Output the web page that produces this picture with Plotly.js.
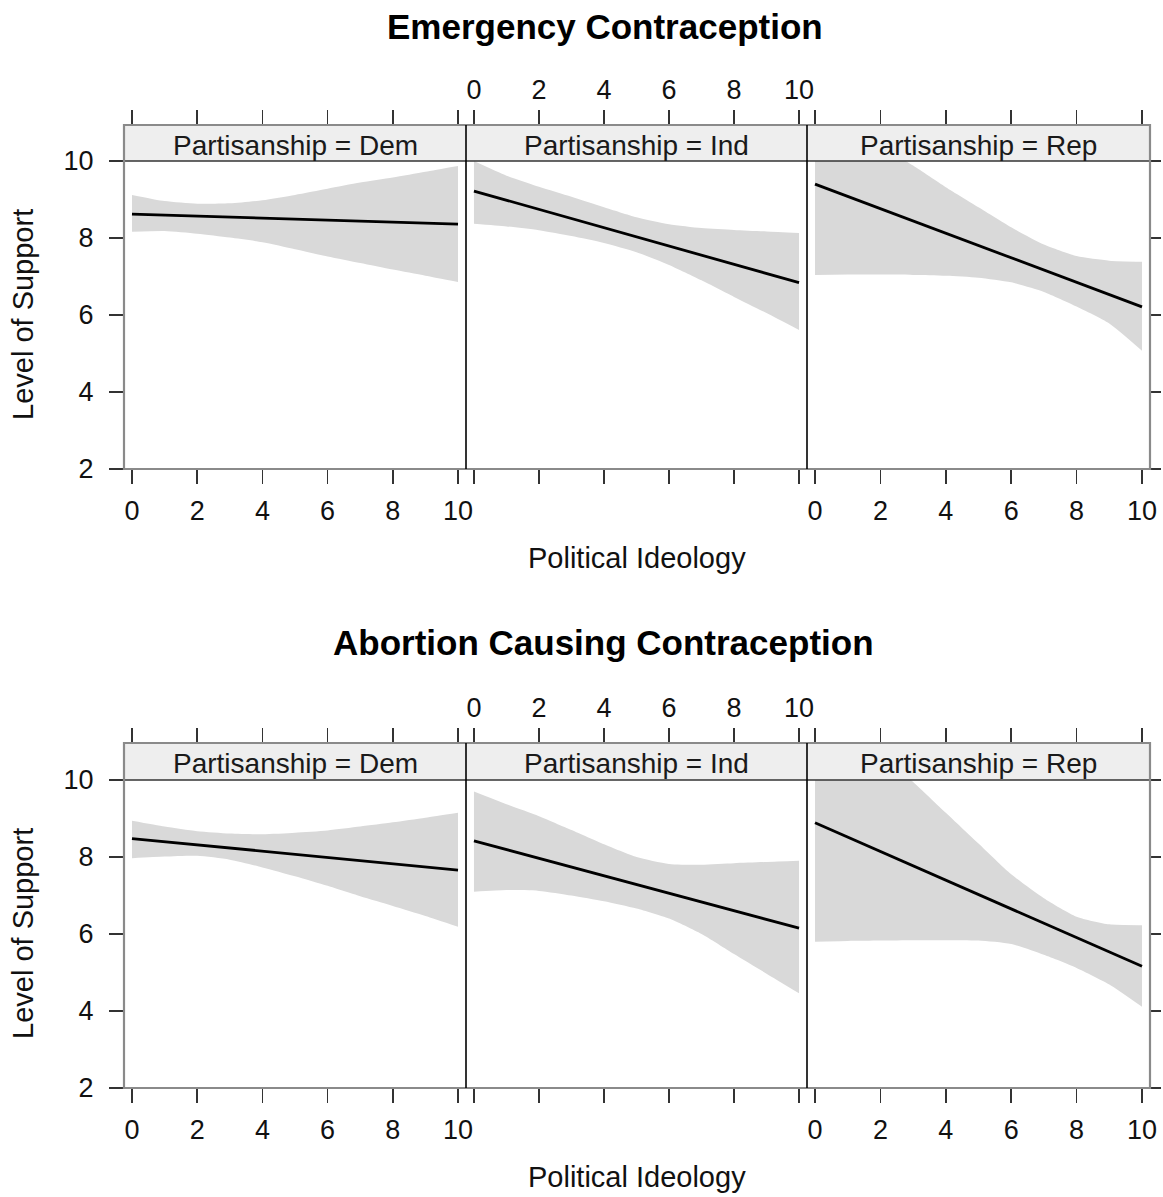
<!DOCTYPE html>
<html>
<head>
<meta charset="utf-8">
<script src="https://cdn.plot.ly/plotly-3.0.1.min.js"></script>
<style>html,body{margin:0;padding:0;background:#fff;}#chart{width:1163px;height:1197px;}</style>
</head>
<body>
<div id="chart"></div>
<script>
// ---------------- DATA ----------------
const chartTitles = ['Emergency Contraception', 'Abortion Causing Contraception'];
const partisanship = ['Dem', 'Ind', 'Rep'];
const ideology = [0, 1, 2, 3, 4, 5, 6, 7, 8, 9, 10];
const fitX = [0, 10];
const xTicks = [0, 2, 4, 6, 8, 10];
const yTicks = [2, 4, 6, 8, 10];

// Emergency Contraception
const ecDemFit   = [8.62, 8.36];
const ecDemUpper = [9.12, 8.96, 8.89, 8.90, 8.98, 9.12, 9.28, 9.44, 9.57, 9.72, 9.87];
const ecDemLower = [8.16, 8.18, 8.11, 8.01, 7.89, 7.71, 7.52, 7.35, 7.18, 7.02, 6.86];
const ecIndFit   = [9.22, 6.84];
const ecIndUpper = [10.0, 9.62, 9.33, 9.07, 8.80, 8.54, 8.36, 8.26, 8.21, 8.17, 8.13];
const ecIndLower = [8.37, 8.30, 8.20, 8.05, 7.87, 7.63, 7.30, 6.90, 6.47, 6.05, 5.61];
const ecRepFit   = [9.40, 6.21];
const ecRepUpper = [11.4, 10.9, 10.4, 9.88, 9.32, 8.80, 8.28, 7.83, 7.53, 7.41, 7.38];
const ecRepLower = [7.04, 7.05, 7.05, 7.04, 7.02, 6.97, 6.85, 6.60, 6.22, 5.78, 5.07];

// Abortion Causing Contraception
const acDemFit   = [8.48, 7.66];
const acDemUpper = [8.94, 8.79, 8.67, 8.61, 8.59, 8.63, 8.69, 8.79, 8.90, 9.02, 9.15];
const acDemLower = [7.97, 8.01, 8.03, 7.93, 7.73, 7.50, 7.25, 6.98, 6.73, 6.47, 6.19];
const acIndFit   = [8.42, 6.15];
const acIndUpper = [9.70, 9.37, 9.06, 8.70, 8.33, 8.00, 7.82, 7.80, 7.84, 7.87, 7.90];
const acIndLower = [7.10, 7.14, 7.12, 7.00, 6.85, 6.66, 6.40, 6.00, 5.48, 4.97, 4.46];
const acRepFit   = [8.89, 5.16];
const acRepUpper = [12.2, 11.4, 10.7, 9.95, 9.15, 8.35, 7.55, 6.93, 6.45, 6.25, 6.23];
const acRepLower = [5.80, 5.82, 5.83, 5.84, 5.84, 5.83, 5.74, 5.46, 5.12, 4.69, 4.11];

const xTitle = 'Political Ideology';
const yTitle = 'Level of Support';

// ---------------- LAYOUT ----------------
const W = 1163, H = 1197;
const FONT = 'Liberation Sans, Arial, Helvetica, sans-serif';
const fx = px => px / W;
const fy = py => 1 - py / H;

const panelL = [124, 466, 807];
const panelR = [466, 807, 1150];
const blocks = [
  {top: 125, y10: 161, y2: 469},
  {top: 743, y10: 780, y2: 1088}
];

const data = [
  [[ecDemFit, ecDemUpper, ecDemLower], [ecIndFit, ecIndUpper, ecIndLower], [ecRepFit, ecRepUpper, ecRepLower]],
  [[acDemFit, acDemUpper, acDemLower], [acIndFit, acIndUpper, acIndLower], [acRepFit, acRepUpper, acRepLower]]
];

const traces = [];
const layout = {
  width: W, height: H,
  margin: {l: 0, r: 0, t: 0, b: 0},
  paper_bgcolor: '#ffffff',
  plot_bgcolor: '#ffffff',
  showlegend: false,
  font: {family: FONT, color: '#111'},
  shapes: [],
  annotations: []
};

blocks.forEach((blk, b) => {
  const pxPerUnit = (blk.y2 - blk.y10) / 8;
  const yTop = 10 + (blk.y10 - blk.top) / pxPerUnit;
  for (let p = 0; p < 3; p++) {
    const k = b * 3 + p + 1;
    const xa = 'x' + k, ya = 'y' + k;
    const [fit, upper, lower] = data[b][p];
    traces.push({
      type: 'scatter', mode: 'lines', x: ideology, y: lower, xaxis: xa, yaxis: ya,
      line: {width: 0, shape: 'spline', smoothing: 0.6, color: '#d9d9d9'}, hoverinfo: 'skip'
    });
    traces.push({
      type: 'scatter', mode: 'lines', x: ideology, y: upper, xaxis: xa, yaxis: ya,
      fill: 'tonexty', fillcolor: '#d9d9d9',
      line: {width: 0, shape: 'spline', smoothing: 0.6, color: '#d9d9d9'}, hoverinfo: 'skip'
    });
    traces.push({
      type: 'scatter', mode: 'lines', x: fitX, y: fit, xaxis: xa, yaxis: ya,
      line: {width: 2.8, color: '#000'}, name: 'Partisanship = ' + partisanship[p]
    });
    const axKey = k === 1 ? '' : k;
    layout['xaxis' + axKey] = {
      domain: [fx(panelL[p]), fx(panelR[p])],
      range: [-0.245, 10.245],
      anchor: ya,
      side: p === 1 ? 'top' : 'bottom',
      tickvals: xTicks,
      ticktext: xTicks.map(String),
      ticks: 'outside', ticklen: 14, tickwidth: 1.5, tickcolor: '#333',
      mirror: 'ticks',
      showline: false, showgrid: false, zeroline: false,
      ticklabelstandoff: p === 1 ? 0 : 4,
      tickfont: {family: FONT, size: 27, color: '#111'},
      fixedrange: true
    };
    layout['yaxis' + axKey] = {
      domain: [fy(blk.y2), fy(blk.top)],
      range: [2, yTop],
      anchor: xa,
      side: p === 2 ? 'right' : 'left',
      tickvals: yTicks,
      ticktext: yTicks.map(String),
      ticks: p === 1 ? '' : 'outside',
      ticklen: p === 2 ? 10 : 14, tickwidth: 1.5, tickcolor: '#333',
      showticklabels: p === 0,
      showline: false, showgrid: false, zeroline: false,
      ticklabelstandoff: 10,
      tickfont: {family: FONT, size: 27, color: '#111'},
      fixedrange: true
    };
    layout.annotations.push({
      xref: 'paper', yref: 'paper',
      x: fx((panelL[p] + panelR[p]) / 2), y: fy((blk.top + blk.y10) / 2 + 2),
      xanchor: 'center', yanchor: 'middle',
      text: 'Partisanship = ' + partisanship[p], showarrow: false,
      font: {family: FONT, size: 28, color: '#1a1a1a'}
    });
  }
  layout.shapes.push({
    type: 'rect', xref: 'paper', yref: 'paper', layer: 'above',
    x0: fx(124), x1: fx(1150), y0: fy(blk.y10), y1: fy(blk.top),
    fillcolor: '#eeeeee', line: {width: 0}
  });
  layout.shapes.push({
    type: 'line', xref: 'paper', yref: 'paper', layer: 'above',
    x0: fx(124), x1: fx(1150), y0: fy(blk.y10), y1: fy(blk.y10),
    line: {color: '#333', width: 1.5}
  });
  layout.shapes.push({
    type: 'rect', xref: 'paper', yref: 'paper', layer: 'above',
    x0: fx(124), x1: fx(1150), y0: fy(blk.y2), y1: fy(blk.top),
    line: {color: '#8a8a8a', width: 2.2}
  });
  [466, 807].forEach(sx => layout.shapes.push({
    type: 'line', xref: 'paper', yref: 'paper', layer: 'above',
    x0: fx(sx), x1: fx(sx), y0: fy(blk.y2), y1: fy(blk.top),
    line: {color: '#000', width: 1.6}
  }));
  layout.annotations.push({
    xref: 'paper', yref: 'paper', x: fx(23), y: fy((blk.y10 + blk.y2) / 2),
    xanchor: 'center', yanchor: 'middle', textangle: -90,
    text: yTitle, showarrow: false, font: {family: FONT, size: 29, color: '#111'}
  });
  layout.annotations.push({
    xref: 'paper', yref: 'paper', x: fx(637), y: fy(blk.y2 + 89),
    xanchor: 'center', yanchor: 'middle',
    text: xTitle, showarrow: false, font: {family: FONT, size: 29, color: '#111'}
  });
});

layout.annotations.push({
  xref: 'paper', yref: 'paper', x: fx(605), y: fy(26),
  xanchor: 'center', yanchor: 'middle',
  text: '<b>' + chartTitles[0] + '</b>', showarrow: false,
  font: {family: FONT, size: 35, color: '#000'}
});
layout.annotations.push({
  xref: 'paper', yref: 'paper', x: fx(603), y: fy(642),
  xanchor: 'center', yanchor: 'middle',
  text: '<b>' + chartTitles[1] + '</b>', showarrow: false,
  font: {family: FONT, size: 35, color: '#000'}
});

Plotly.newPlot('chart', traces, layout, {staticPlot: true, displayModeBar: false});
</script>
</body>
</html>
